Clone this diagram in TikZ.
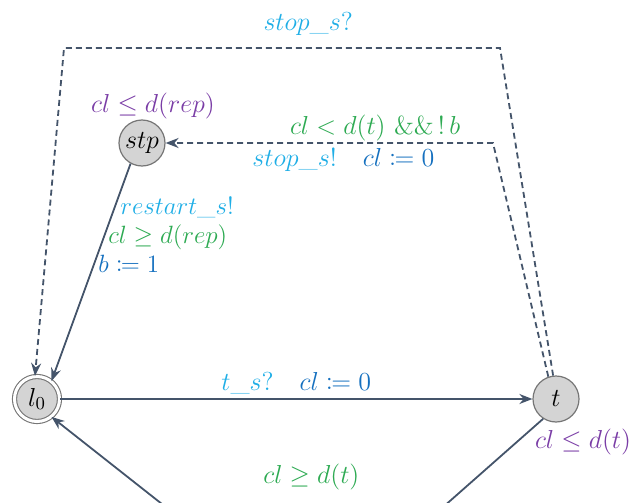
\RequirePackage{fix-cm}
\documentclass[tikz,border=0pt]{standalone}
\usepackage{mathtools}
\usetikzlibrary{arrows.meta}
\definecolor{lncol}{HTML}{44546A}
\definecolor{cyant}{HTML}{1FAEE6}
\definecolor{bluet}{HTML}{1570BF}
\definecolor{greent}{HTML}{2DAA52}
\definecolor{purplet}{HTML}{7A3DA6}
\definecolor{nodefill}{HTML}{D4D4D4}
\definecolor{nodeline}{HTML}{767676}
\begin{document}
\begin{tikzpicture}[x=0.5pt,y=-0.5pt,
  every node/.style={font=\fontsize{13}{15}\selectfont},
  loc/.style={circle, draw=nodeline, fill=nodefill, line width=0.6pt, minimum size=23pt, inner sep=0pt},
  initloc/.style={circle, draw=nodeline, fill=nodefill, minimum size=22.5pt, inner sep=0pt, double=white, double distance=1.5pt, line width=0.55pt},
  trans/.style={draw=lncol, line width=0.9pt, -{Stealth[length=6.5pt,width=5pt]}},
  dtrans/.style={trans, dash pattern=on 3pt off 2pt},
  lbl/.style={inner sep=0pt},
  slbl/.style={inner sep=0pt, font=\fontsize{12.5}{14}\selectfont}
]
\useasboundingbox (0,0) rectangle (632,503);
\clip (0,0) rectangle (632,503);

\node[initloc] (l0) at (37,399) {$l_0$};
\node[loc] (t) at (556,399) {$t$};
\node[loc] (stp) at (142,143) {$stp$};

\coordinate (c1) at (500,48);
\coordinate (c2) at (64,48);
\coordinate (c3) at (493,143);
\coordinate (b1) at (442,508);
\coordinate (b2) at (167,508);

% l0 -> t
\draw[trans] (l0) -- node[lbl, pos=0.5, yshift=8pt] {$\textcolor{cyant}{t\_s?}\quad\textcolor{bluet}{cl \coloneqq 0}$} (t);

% t -> l0 (bottom)
\draw[trans] (t.237) -- (b1) -- node[lbl, pos=0.475, yshift=15.5pt, text=greent] {$cl \geq d(t)$} (b2) -- (l0.309);

% stp -> l0
\draw[trans] (stp.241) -- (l0.51);
\node[slbl, anchor=west, text=cyant] (r1) at (120,208) {$restart\_s!$};
\node[slbl, anchor=west, text=greent] (r2) at (108,237) {$cl \geq d(rep)$};
\node[slbl, anchor=west, text=bluet] (r3) at (98,264) {$b \coloneqq 1$};

% t -> l0 (top, dashed)
\draw[dtrans] (t.97) -- (c1) -- node[lbl, pos=0.44, yshift=12pt, text=cyant] {$stop\_s?$} (c2) -- (l0.95);

% t -> stp (dashed)
\draw[dtrans] (t.109) -- (c3)
  -- node[lbl, pos=0.36, yshift=7.5pt, text=greent] {$cl < d(t)\ \&\&\,!\,b$}
     node[lbl, pos=0.457, yshift=-8.5pt] {$\textcolor{cyant}{stop\_s!}\quad\textcolor{bluet}{cl \coloneqq 0}$}
  (stp.east);

% invariants
\node[lbl, text=purplet] (inv1) at (153,106) {$cl \leq d(rep)$};
\node[lbl, text=purplet] (inv2) at (583,442) {$cl \leq d(t)$};
\end{tikzpicture}
\end{document}
